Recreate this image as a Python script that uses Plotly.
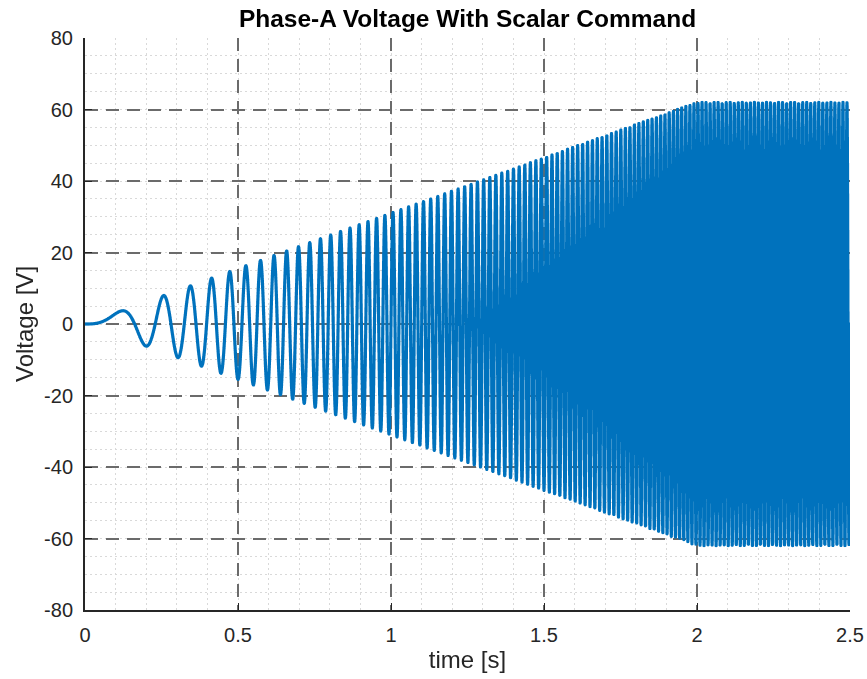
import numpy as np
import plotly.graph_objects as go

# Values: envelope and command frequency keypoints
ramp_time_s = [0.0, 2.0, 2.5]
amplitude_V = [0.0, 62.0, 62.0]
frequency_Hz = [0.0, 76.0, 76.0]
sample_step_s = 0.0005

x_ticks = [0, 0.5, 1, 1.5, 2, 2.5]
x_tick_text = ["0", "0.5", "1", "1.5", "2", "2.5"]
y_ticks = [-80, -60, -40, -20, 0, 20, 40, 60, 80]
y_tick_text = ["-80", "-60", "-40", "-20", "0", "20", "40", "60", "80"]

t = np.arange(0.0, 2.5 + sample_step_s / 2, sample_step_s)
amp = np.interp(t, ramp_time_s, amplitude_V)
freq = np.interp(t, ramp_time_s, frequency_Hz)
phase = 2 * np.pi * np.concatenate([[0.0], np.cumsum((freq[1:] + freq[:-1]) / 2 * np.diff(t))])
v = amp * np.sin(phase)

fig = go.Figure()
fig.add_trace(go.Scattergl(x=t, y=v, mode="lines",
                           line=dict(color="#0072BD", width=3.2),
                           showlegend=False, hoverinfo="skip"))

FONT = "Liberation Sans, Arial, sans-serif"
axis_font = dict(family=FONT, size=20, color="#262626")
common = dict(
    showline=True, linecolor="#262626", linewidth=2,
    ticks="inside", ticklen=7, tickwidth=1, tickcolor="#262626",
    showgrid=True, gridcolor="#6b6b6b", gridwidth=2, griddash="13px,8px",
    zeroline=False, tickfont=axis_font, mirror=False, automargin=False,
)
fig.update_xaxes(range=[0, 2.5], tickvals=x_ticks, ticktext=x_tick_text,
                 minor=dict(dtick=0.1, showgrid=True, gridcolor="#d9d9d9",
                            griddash="2px,3px", gridwidth=1, ticks=""),
                 title=dict(text="time [s]", font=dict(family=FONT, size=24, color="#262626"), standoff=6),
                 ticklabelstandoff=6,
                 **common)
fig.update_yaxes(range=[-80, 80], tickvals=y_ticks, ticktext=y_tick_text,
                 minor=dict(dtick=5, showgrid=True, gridcolor="#d9d9d9",
                            griddash="2px,3px", gridwidth=1, ticks=""),
                 title=dict(text="Voltage [V]", font=dict(family=FONT, size=24, color="#262626"), standoff=4),
                 ticklabelstandoff=6,
                 **common)
fig.update_layout(
    width=867, height=679,
    margin=dict(l=85, r=17, t=38, b=69),
    paper_bgcolor="white", plot_bgcolor="white",
    title=dict(text="<b>Phase-A Voltage With Scalar Command</b>",
               font=dict(family=FONT, size=24.5, color="#000000"),
               x=(85 + 850) / 2 / 867, xanchor="center", y=1 - 18 / 679, yanchor="middle",
               automargin=False),
)
fig.write_html("out.html", config={"displayModeBar": False, "staticPlot": True})

with open("out.html", "r", encoding="utf-8") as f:
    html = f.read()
html = html.replace("<head>", "<head><style>html,body{margin:0;padding:0;overflow:hidden;}</style>", 1)
with open("out.html", "w", encoding="utf-8") as f:
    f.write(html)
